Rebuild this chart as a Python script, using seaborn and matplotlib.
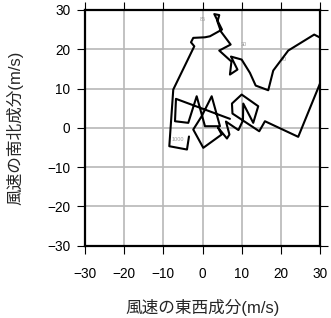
import matplotlib
matplotlib.use("Agg")
import matplotlib.pyplot as plt
import seaborn as sns
import pandas as pd

# Hodograph trace (u: east-west, v: north-south), in path order
u = [-3.46, -3.97, -8.47, -7.46, -2.11, -2.95, -2.37, 0.61, 1.88, 4.94,
     2.98, 4.25, 3.79, 4.68, 7.15, 4.25, 7.35, 6.97, 8.88, 7.23,
     9.95, 12.06, 13.52, 16.72, 17.99, 21.81, 28.42, 33.84, 24.35, 15.88,
     14.43, 7.61, 7.48, 9.95, 14.17, 12.90, 10.36, 10.28, 9.13, 5.95,
     6.84, 6.21, 3.92, 4.86, 0.18, -2.37, -0.23, 2.32, 4.43, 0.61,
     -1.50, -3.64, -7.02, -6.77, 6.97]
v = [-2.21, -5.52, -4.68, 9.75, 20.76, 21.78, 22.90, 23.05, 23.31, 25.01,
     28.96, 28.70, 27.05, 24.50, 21.20, 19.67, 16.87, 13.56, 14.83, 18.14,
     17.38, 13.99, 10.76, 9.57, 14.58, 19.67, 23.74, 20.94, -2.29, 1.68,
     -0.87, 3.64, 6.18, 8.47, 5.50, 1.27, 6.18, 1.86, -0.56, 1.60,
     -1.70, -2.72, 0.08, -1.70, -5.09, -0.43, 2.95, 8.04, 0.41, 0.41,
     8.04, 1.27, 1.68, 7.38, 2.29]

label_text = ["1000", "85", "30", "20"]
label_u = [-6.3, 0.0, 10.4, 20.6]
label_v = [-3.0, 27.5, 21.2, 17.4]

ticks = [-30, -20, -10, 0, 10, 20, 30]
xlabel = "風速の東西成分(m/s)"
ylabel = "風速の南北成分(m/s)"

df = pd.DataFrame({"u": u, "v": v, "order": range(len(u))})

sns.set_style("ticks")
plt.rcParams["font.family"] = ["Liberation Sans", "Noto Sans CJK JP", "DejaVu Sans"]
plt.rcParams["axes.unicode_minus"] = True

fig = plt.figure(figsize=(3.31, 3.18), dpi=100)
ax = fig.add_axes([0.256, 0.2274, 0.712, 0.7412])

sns.lineplot(data=df, x="u", y="v", sort=False, estimator=None,
             color="black", linewidth=1.5, ax=ax, zorder=3)

for t, x, y in zip(label_text, label_u, label_v):
    ax.text(x, y, t, fontsize=4.0, color="#9a9a9a", ha="center", va="center", zorder=2)

ax.set_xlim(-30, 30)
ax.set_ylim(-30, 30)
ax.set_xticks(ticks)
ax.set_yticks(ticks)
ax.set_xticklabels([str(t).replace("-", "\u2212") for t in ticks])
ax.set_yticklabels([str(t).replace("-", "\u2212") for t in ticks])
ax.grid(True, color="#b8b8b8", linewidth=1.2, zorder=1)
ax.set_axisbelow(True)
for s in ax.spines.values():
    s.set_linewidth(1.6)
    s.set_color("black")
    s.set_visible(True)
ax.tick_params(axis="both", which="both", direction="out", length=5.5, width=0.8,
               top=True, right=True, labelsize=9.8, colors="black")
ax.tick_params(axis="x", pad=10)
ax.tick_params(axis="y", pad=5)
ax.set_xlabel(xlabel, fontsize=12, labelpad=13)
ax.set_ylabel(ylabel, fontsize=12, labelpad=17)

fig.savefig("out.png", dpi=100)
